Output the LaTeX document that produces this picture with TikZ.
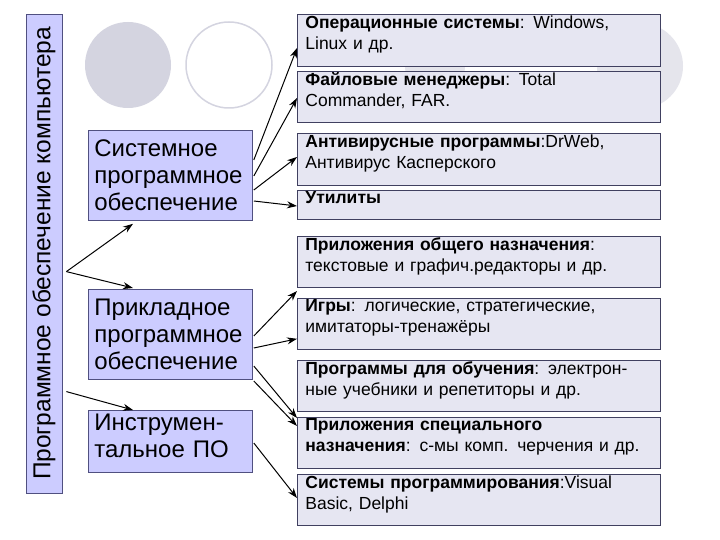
\documentclass[tikz,border=0pt]{standalone}
\usepackage{fontspec}
\setmainfont{Liberation Sans}
\usetikzlibrary{calc,arrows.meta}
\definecolor{lbox}{HTML}{CCCCFF}
\definecolor{lbord}{HTML}{505080}
\definecolor{rbox}{HTML}{E6E6F2}
\definecolor{rbord}{HTML}{404060}
\definecolor{circ}{HTML}{D4D4E0}
\begin{document}
\begin{tikzpicture}[x=1pt,y=-1pt,
  lnode/.style={draw=lbord,fill=lbox,line width=0.8pt,anchor=north west,inner sep=0pt,font=\fontsize{24}{27}\selectfont,align=left,text width=#1},
  rnode/.style={draw=rbord,fill=rbox,line width=0.8pt,anchor=north west,minimum width=363,inner sep=0pt,font=\fontsize{17.5}{21}\selectfont,align=left,text width=363},
  arr/.style={-{Stealth[length=10pt,width=7pt]},line width=1pt}]
\useasboundingbox (0,0) rectangle (720,540);
\fill[white] (0,0) rectangle (720,540);
\fill[circ] (128,65) circle (43);
\draw[circ,line width=1.5pt] (229,65) circle (43);
\fill[circ!60] (435,66) circle (30);
\fill[circ!60] (640,66) circle (43);
\node[draw=lbord,fill=lbox,line width=0.8pt,minimum width=36,minimum height=479,inner sep=0pt] (bar) at (44,253.5) {};
\node[rotate=90,font=\fontsize{24.5}{26}\selectfont] (bart) at (bar.center) {Программное обеспечение компьютера};
\node[lnode=164,minimum width=164,minimum height=90] (sys) at (88,130) {\parbox[c][90pt][c]{164pt}{\raggedright\leftskip=6pt Системное\\программное\\обеспечение}};
\node[lnode=164,minimum width=164,minimum height=90] (pr) at (88,289) {\parbox[c][90pt][c]{164pt}{\raggedright\leftskip=6pt Прикладное\\программное\\обеспечение}};
\node[lnode=164,minimum width=164,minimum height=62] (in) at (88,410) {\parbox[t][62pt][t]{164pt}{\raggedright\leftskip=6pt\vspace*{4pt}Инструмен-\\тальное ПО}};
\newcommand\rb[4]{\node[rnode,minimum height=#3] (#1) at (297,#2) {\parbox[t][#3pt][t]{363pt}{\raggedright\leftskip=8pt\vspace*{1pt}#4}};}
\rb{r1}{14}{52}{\textbf{Операционные системы}: Windows,\\Linux и др.}
\rb{r2}{71}{51}{\textbf{Файловые менеджеры}: Total\\Commander, FAR.}
\rb{r3}{133}{52}{\textbf{Антивирусные программы}:DrWeb,\\Антивирус Касперского}
\rb{r4}{190}{29}{\textbf{Утилиты}}
\rb{r5}{236}{51}{\textbf{Приложения общего назначения}:\\текстовые и графич.редакторы и др.}
\rb{r6}{298}{51}{\textbf{Игры}: логические, стратегические,\\имитаторы-тренажёры}
\rb{r7}{360}{51}{\textbf{Программы для обучения}: электрон-\\ные учебники и репетиторы и др.}
\rb{r8}{417}{51}{\textbf{Приложения специального}\\\textbf{назначения}: с-мы комп. черчения и др.}
\rb{r9}{474}{51}{\textbf{Системы программирования}:Visual\\Basic, Delphi}
\coordinate (b1) at ($(bar.north east)+(4,258)$);
\coordinate (b2) at ($(bar.north east)+(4,378)$);
\draw[arr] (b1) -- ($(sys.south west)+(45,3)$);
\draw[arr] (b1) -- ($(pr.north west)+(45,-1)$);
\draw[arr] (b2) -- ($(in.north west)+(45,0)$);
\draw[arr] ($(sys.north east)+(1,30)$) -- ($(r1.north west)+(0,34)$);
\draw[arr] ($(sys.north east)+(1,46)$) -- ($(r2.north west)+(0,27)$);
\draw[arr] ($(sys.north east)+(1,60)$) -- ($(r3.north west)+(0,24)$);
\draw[arr] ($(sys.north east)+(1,71)$) -- ($(r4.north west)+(0,16)$);
\draw[arr] ($(pr.north east)+(1,47)$) -- ($(r6.north west)+(0,-7)$);
\draw[arr] ($(pr.north east)+(1,59)$) -- ($(r6.south west)+(0,-11)$);
\draw[arr] ($(pr.north east)+(1,77)$) -- ($(r8.north west)+(0,1)$);
\draw[arr] ($(pr.north east)+(1,92)$) -- ($(r8.north west)+(0,9)$);
\draw[arr] ($(in.north east)+(1,33)$) -- ($(r9.north west)+(0,24)$);
\end{tikzpicture}
\end{document}
